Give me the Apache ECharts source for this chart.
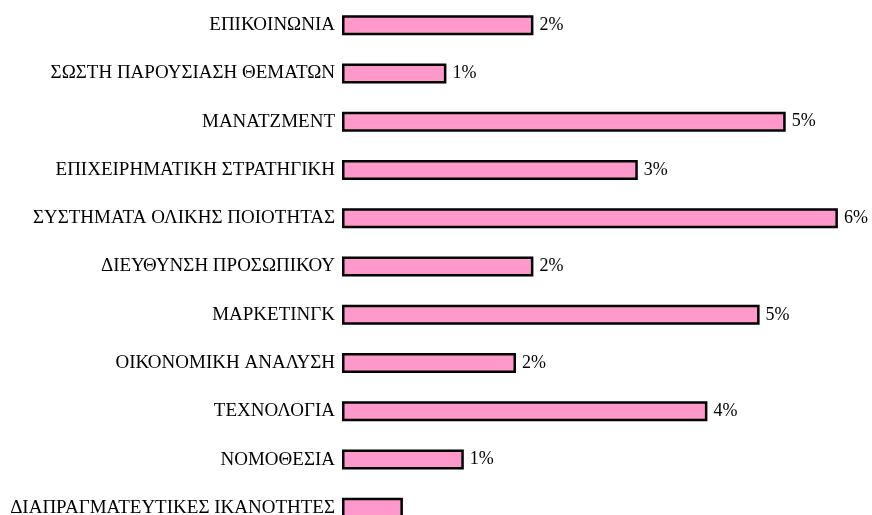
<!DOCTYPE html>
<html>
<head>
<meta charset="utf-8">
<script src="https://cdn.jsdelivr.net/npm/echarts@6/dist/echarts.min.js"></script>
<style>
    html, body { margin: 0; padding: 0; background: #fff; }
    #chart { width: 872px; height: 515px; }
</style>
</head>
<body>
<div id="chart"></div>
<script>
// categories top to bottom
var categories = [
    'ΕΠΙΚΟΙΝΩΝΙΑ',
    'ΣΩΣΤΗ ΠΑΡΟΥΣΙΑΣΗ ΘΕΜΑΤΩΝ',
    'ΜΑΝΑΤΖΜΕΝΤ',
    'ΕΠΙΧΕΙΡΗΜΑΤΙΚΗ ΣΤΡΑΤΗΓΙΚΗ',
    'ΣΥΣΤΗΜΑΤΑ ΟΛΙΚΗΣ ΠΟΙΟΤΗΤΑΣ',
    'ΔΙΕΥΘΥΝΣΗ ΠΡΟΣΩΠΙΚΟΥ',
    'ΜΑΡΚΕΤΙΝΓΚ',
    'ΟΙΚΟΝΟΜΙΚΗ ΑΝΑΛΥΣΗ',
    'ΤΕΧΝΟΛΟΓΙΑ',
    'ΝΟΜΟΘΕΣΙΑ',
    'ΔΙΑΠΡΑΓΜΑΤΕΥΤΙΚΕΣ ΙΚΑΝΟΤΗΤΕΣ'
];
// percent values
var values = [2.2, 1.2, 5.1, 3.4, 5.7, 2.2, 4.8, 2.0, 4.2, 1.4, 0.7];

var chart = echarts.init(document.getElementById('chart'));

var data = values.map(function (v, i) {
    var d = { value: v };
    // last bar is cut off at the bottom edge, its label is not seen
    if (i == values.length - 1) d.label = { show: false };
    return d;
});

var option = {
    animation: false,
    textStyle: { fontFamily: 'Liberation Serif' },
    grid: {
        left: 342,
        width: 522,
        top: 1,
        bottom: -17,
        outerBoundsMode: 'none'
    },
    xAxis: {
        type: 'value',
        min: 0,
        max: 6,
        show: false
    },
    yAxis: {
        type: 'category',
        inverse: true,
        data: categories,
        axisLine: { show: false },
        axisTick: { show: false },
        axisLabel: {
            margin: 7,
            color: '#000',
            fontSize: 19,
            fontFamily: 'Liberation Serif'
        }
    },
    series: [{
        type: 'bar',
        data: data,
        barWidth: 20,
        itemStyle: {
            color: '#ff99cc',
            borderColor: '#000',
            borderWidth: 2.5
        },
        label: {
            show: true,
            position: 'right',
            distance: 6,
            color: '#000',
            fontSize: 18,
            fontFamily: 'Liberation Serif',
            formatter: function (p) {
                return Math.round(p.value) + '%';
            }
        }
    }]
};

chart.setOption(option);
</script>
</body>
</html>
